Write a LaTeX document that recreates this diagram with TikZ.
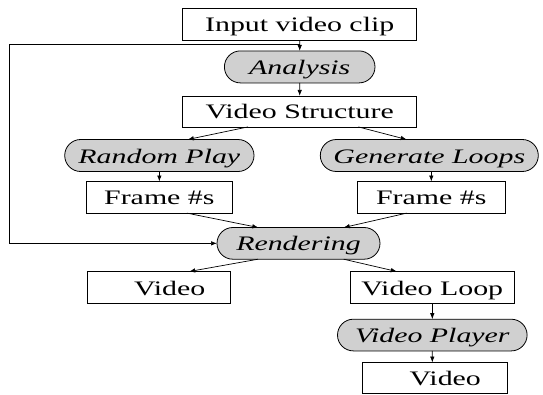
\documentclass[tikz,border=0pt]{standalone}
\usepackage{fontspec}
\setmainfont[FakeStretch=1.45]{Liberation Serif}
\usepackage{tikz}
\usetikzlibrary{shapes,arrows.meta}
\usetikzlibrary{positioning}
\definecolor{stepgray}{RGB}{208,208,208}
\newcommand{\diagfont}{\fontsize{20.6}{22}\selectfont}
\tikzstyle{block} = [rectangle, draw, line width=0.8pt, font=\diagfont, outer sep=0pt,
    inner xsep=1pt, inner ysep=0.5pt, text height=17pt, text depth=2pt, minimum height=32pt]
\tikzstyle{block_rounded} = [rounded rectangle, draw, fill=stepgray, line width=0.8pt, outer sep=0pt,
    font=\diagfont\itshape, inner xsep=1pt, inner ysep=0.5pt, text height=17pt, text depth=2pt, minimum height=32pt]
\tikzstyle{line} = [draw, -{Latex[length=6pt,width=4.5pt]}, line width=0.7pt]

\begin{document}
\begin{tikzpicture}[x=1pt, y=-1pt]
    \useasboundingbox (0,0) rectangle (543,394);
    % Place nodes
    \node [block, minimum width=234pt] (input) at (299.7,24.2) {Input video clip};
    \node [block_rounded, minimum width=152.6pt, below=10.7pt of input] (analysis) {Analysis};
    \node [block, minimum width=234pt, minimum height=31pt, below=13pt of analysis] (structure) {Video Structure};
    \node [block_rounded, minimum width=191.3pt, below left=12.6pt and -55.3pt of structure] (random) {Random Play};
    \node [block_rounded, minimum width=220pt, below right=12.6pt and -80.4pt of structure] (loops) {Generate Loops};
    \node [block, minimum width=146.3pt, minimum height=31.6pt, below=10pt of random] (frames_r) {Frame \#s};
    \node [block, minimum width=147.7pt, minimum height=31.6pt, below=10pt of loops, xshift=2pt] (frames_l) {Frame \#s};
    \node [block_rounded, minimum width=165pt, minimum height=31.7pt, below=100.6pt of structure, xshift=-1.2pt] (render) {Rendering};
    \node [block, minimum width=143.3pt, below left=12.3pt and 2pt of render] (video) {\hspace*{21pt}Video};
    \node [block, minimum width=164.3pt, below right=12.3pt and -14pt of render] (loop) {Video Loop};
    \node [block_rounded, minimum width=191.6pt, minimum height=31.7pt, below=15.7pt of loop] (player) {Video Player};
    \node [block, minimum width=144.6pt, minimum height=30.7pt, below=11.6pt of player, xshift=2.5pt] (video_out) {\hspace*{21pt}Video};
    \coordinate [below=4pt of input] (tap);
    \coordinate [left=207.7pt of render] (corner);
    % Draw edges
    \path [line] (input) -- (analysis);
    \path [line] (tap) -| (corner) -- (render);
    \path [line] (analysis) -- (structure);
    \path [line] ([xshift=-51.7pt]structure.south) -- ([xshift=28.4pt]random.north);
    \path [line] ([xshift=58.6pt]structure.south) -- ([xshift=-22.6pt]loops.north);
    \path [line] (random.south) -- (random.south |- frames_r.north);
    \path [line] (frames_l.north |- loops.south) -- (frames_l.north);
    \path [line] ([xshift=27.5pt]frames_r.south) -- ([xshift=-40.2pt]render.north);
    \path [line] ([xshift=-24.5pt]frames_l.south) -- ([xshift=45.2pt]render.north);
    \path [line] ([xshift=-40.5pt]render.south) -- ([xshift=30pt]video.north);
    \path [line] ([xshift=45.2pt]render.south) -- ([xshift=-35.5pt]loop.north);
    \path [line] (loop) -- (loop |- player.north);
    \path [line] (player) -- (player |- video_out.north);
\end{tikzpicture}
\end{document}
